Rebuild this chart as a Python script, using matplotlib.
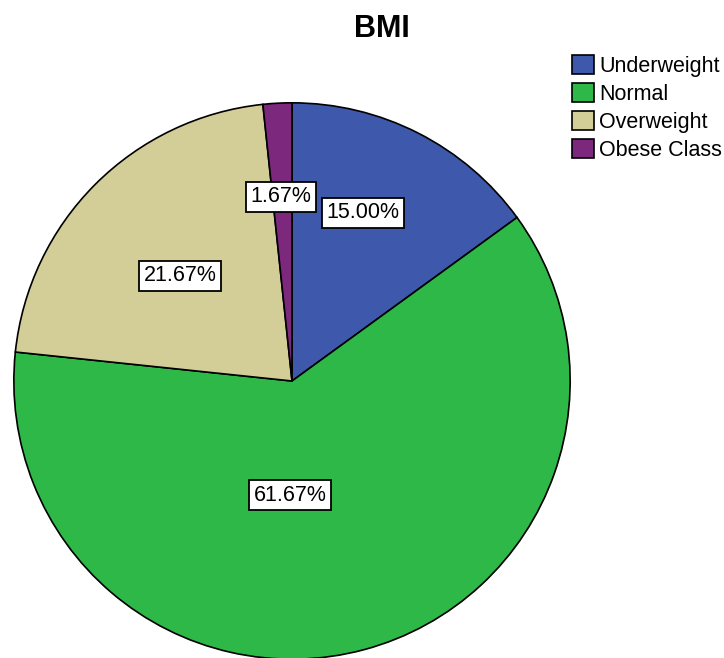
import numpy as np
import matplotlib.pyplot as plt

plt.rcParams['font.family'] = ['Liberation Sans', 'DejaVu Sans']

categories = ['Underweight', 'Normal', 'Overweight', 'Obese Class']
percents = [15.00, 61.67, 21.67, 1.67]
colors = ['#3e58ac', '#2eb848', '#d3ce97', '#7c287d']

# where SPSS put the percentage boxes (pie radius = 1)
label_pos = [(0.255, 0.604), (-0.007, -0.41), (-0.403, 0.378), (-0.04, 0.662)]

fig = plt.figure(figsize=(7.24, 6.58), dpi=100)
ax = fig.add_axes([13 / 724, (277 - 279) / 658, 558 / 724, 558 / 658])

wedges, texts, autotexts = ax.pie(
    percents, colors=colors, startangle=90, counterclock=False,
    radius=1, autopct='%.2f%%',
    wedgeprops=dict(edgecolor='black', linewidth=1.2),
    textprops=dict(fontsize=15.5))

for t, p, (x, y) in zip(autotexts, percents, label_pos):
    t.set_text('%.2f%%' % p)
    t.set_position((x, y))
    t.set_ha('center')
    t.set_va('center')
    t.set_bbox(dict(boxstyle='square,pad=0.2', facecolor='white',
                    edgecolor='black', linewidth=1.3))

ax.set_xlim(-1.003, 1.003)
ax.set_ylim(-1.003, 1.003)
ax.set_aspect('equal')
ax.axis('off')

fig.text(382 / 724, 1 - 29 / 658, 'BMI', fontsize=22, fontweight='bold',
         ha='center', va='center')

fig.legend(wedges, categories, loc='upper left',
           bbox_to_anchor=(572 / 724, 1 - 55 / 658),
           frameon=False, fontsize=15.5, handlelength=1.0, handleheight=1.0,
           handletextpad=0.25, labelspacing=0.28, borderaxespad=0,
           borderpad=0)

fig.savefig('out.png', dpi=100)
